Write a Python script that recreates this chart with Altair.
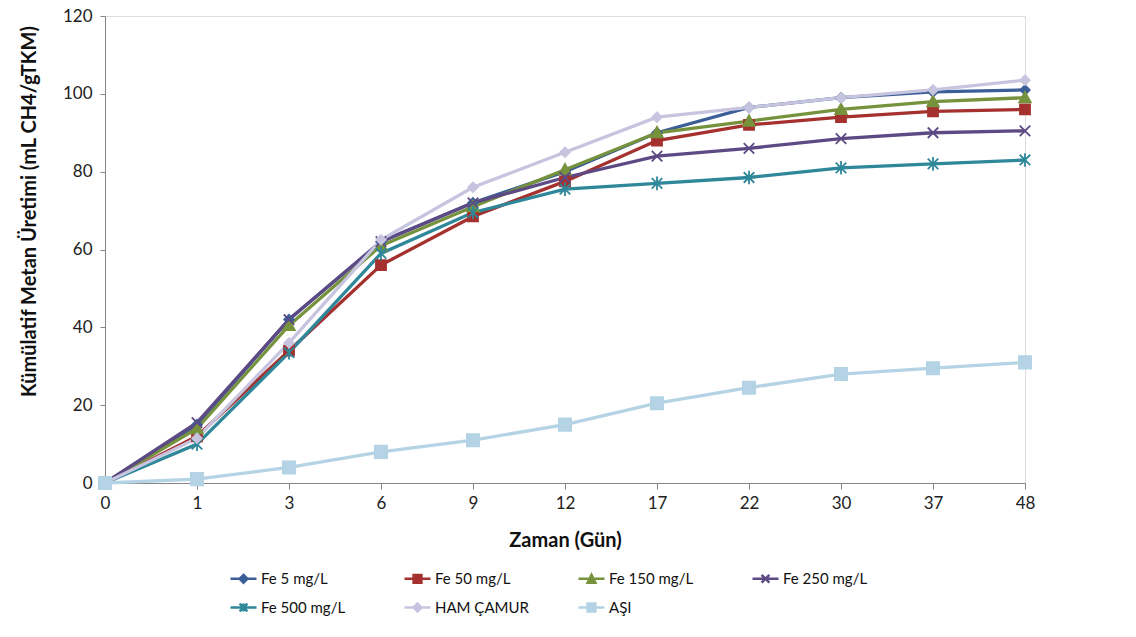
import altair as alt
import pandas as pd

gun = ["0", "1", "3", "6", "9", "12", "17", "22", "30", "37", "48"]

seriler = ["Fe 5 mg/L", "Fe 50 mg/L", "Fe 150 mg/L", "Fe 250 mg/L",
           "Fe 500 mg/L", "HAM ÇAMUR", "AŞI"]

fe5 = [0, 15, 42, 62, 72, 80, 90, 96.5, 99, 100.5, 101]
fe50 = [0, 12, 34, 56, 68.5, 77.5, 88, 92, 94, 95.5, 96]
fe150 = [0, 14, 40.5, 61, 71, 80.5, 90, 93, 96, 98, 99]
fe250 = [0, 15.5, 42, 62, 72, 78.5, 84, 86, 88.5, 90, 90.5]
fe500 = [0, 10, 33.5, 59, 69.5, 75.5, 77, 78.5, 81, 82, 83]
ham = [0, 11.5, 36, 62.5, 76, 85, 94, 96.5, 99, 101, 103.5]
asi = [0, 1, 4, 8, 11, 15, 20.5, 24.5, 28, 29.5, 31]

degerler = [fe5, fe50, fe150, fe250, fe500, ham, asi]

renkler = ["#3B5E98", "#A5312E", "#76923C", "#5D4A84", "#2F879A", "#C6C4DE", "#B4D3E4"]

# marker paths (unit square) for plot markers
isaret = [
    "M0,-1L1,0L0,1L-1,0Z",
    "M-1,-1L1,-1L1,1L-1,1Z",
    "M0,-1.1L1.1,0.9L-1.1,0.9Z",
    "M-1,-1L1,1M-1,1L1,-1",
    "M-1,-1L1,1M-1,1L1,-1M0,-1.3L0,1.3",
    "M0,-1L1,0L0,1L-1,0Z",
    "M-1,-1L1,-1L1,1L-1,1Z",
]
boyut = [90, 100, 110, 110, 110, 90, 150]

# legend symbols: line + marker
k = 0.3
lejant = [
    f"M-1,0L1,0M0,-{k}L{k},0L0,{k}L-{k},0Z",
    f"M-1,0L1,0M-{k},-{k}L{k},-{k}L{k},{k}L-{k},{k}Z",
    f"M-1,0L1,0M0,-{k}L{k},{k}L-{k},{k}Z",
    f"M-1,0L1,0M-{k},-{k}L{k},{k}M-{k},{k}L{k},-{k}",
    f"M-1,0L1,0M-{k},-{k}L{k},{k}M-{k},{k}L{k},-{k}M0,-{k}L0,{k}",
    f"M-1,0L1,0M0,-{k}L{k},0L0,{k}L-{k},0Z",
    f"M-1,0L1,0M-{k},-{k}L{k},-{k}L{k},{k}L-{k},{k}Z",
]

rows = []
for s, vals in zip(seriler, degerler):
    for g, v in zip(gun, vals):
        rows.append({"gun": g, "deger": v, "seri": s})
df = pd.DataFrame(rows)

FONT = "Lato"

x_enc = alt.X(
    "gun:O", sort=gun,
    scale=alt.Scale(type="point", padding=0),
    axis=alt.Axis(
        title="Zaman (Gün)", labelAngle=0, labelFontSize=17, labelColor="#222",
        labelFont=FONT, tickSize=6, tickColor="#868686", domainColor="#868686",
        labelPadding=6, titleFont=FONT, titleFontSize=20, titleFontWeight="bold",
        titleColor="#111", titleY=57, titleBaseline="middle", grid=False,
    ),
)
y_enc = alt.Y(
    "deger:Q",
    scale=alt.Scale(domain=[0, 120], nice=False),
    axis=alt.Axis(
        title="Kümülatif Metan Üretimi (mL CH4/gTKM)", values=[0, 20, 40, 60, 80, 100, 120],
        labelFontSize=17, labelColor="#222", labelFont=FONT, tickSize=5,
        tickColor="#868686", domainColor="#868686", labelPadding=8, grid=False,
        titleFont=FONT, titleFontSize=20, titleFontWeight="bold", titleColor="#111",
        titleX=-76, titleY=195, titleBaseline="middle", titleAngle=270,
    ),
)

stroke_scale = alt.Scale(domain=seriler, range=renkler)
shape_scale = alt.Scale(domain=seriler, range=lejant)

base = alt.Chart(df)

layers = []
for s, c in zip(seriler, renkler):
    layers.append(
        base.transform_filter(alt.datum.seri == s)
        .mark_line(strokeWidth=3.3, color=c)
        .encode(x=x_enc, y=y_enc)
    )
for s, c, path, sz in zip(seriler, renkler, isaret, boyut):
    layers.append(
        base.transform_filter(alt.datum.seri == s)
        .mark_point(filled=True, strokeWidth=1.8, opacity=1, size=sz, shape=path,
                    fill=c, stroke=c)
        .encode(x=x_enc, y=y_enc)
    )

leg = alt.Legend(
    title=None, orient="none", legendX=124, legendY=548, columns=4, gridAlign="all",
    symbolSize=676, symbolStrokeWidth=2.5, labelFont=FONT, labelFontSize=15,
    labelColor="#111", labelOffset=3, columnPadding=44, rowPadding=5, padding=0,
    symbolOpacity=1, direction="horizontal",
)

legend_layer = base.transform_filter("false").mark_point(filled=True, strokeWidth=2.5).encode(
    x=x_enc, y=y_enc,
    fill=alt.Fill("seri:N", scale=stroke_scale, legend=leg),
    stroke=alt.Stroke("seri:N", scale=stroke_scale, legend=leg),
    shape=alt.Shape("seri:N", scale=shape_scale, legend=leg),
)
layers.append(legend_layer)

chart = alt.layer(*layers).properties(
    width=920, height=467,
    autosize=alt.AutoSizeParams(type="none"),
    padding={"left": 105, "top": 16, "right": 111, "bottom": 154},
).configure_view(stroke=None).configure(background="white")

chart.save("out.html", embed_options={"renderer": "svg", "actions": False})
